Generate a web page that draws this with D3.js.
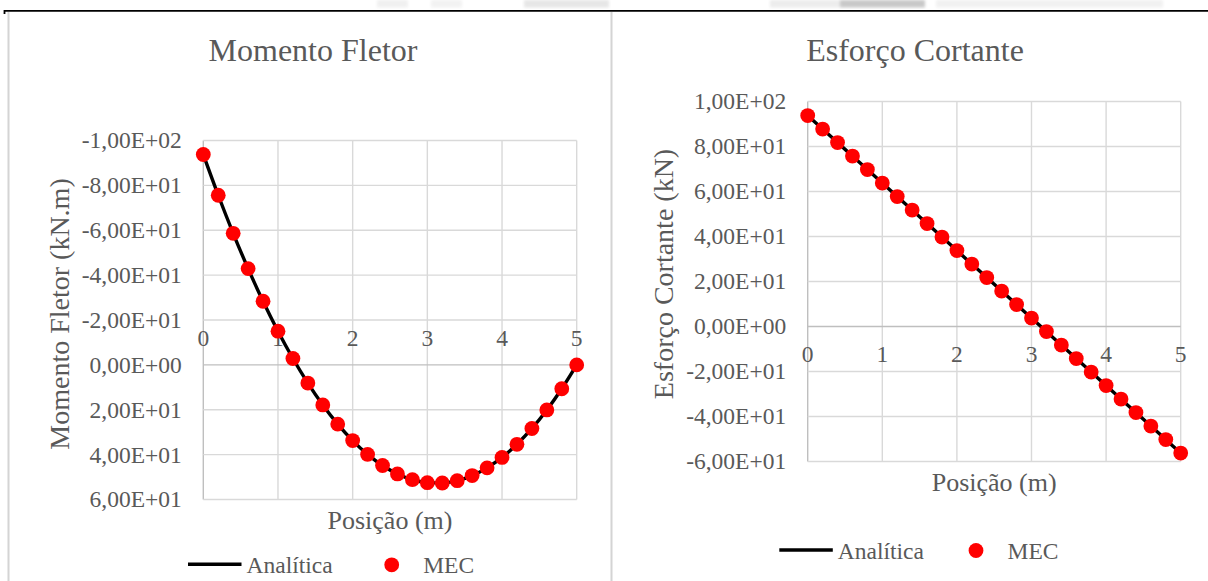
<!DOCTYPE html>
<html>
<head>
<meta charset="utf-8">
<script src="https://cdn.jsdelivr.net/npm/d3@7"></script>
<style>
  html, body { margin: 0; padding: 0; background: #ffffff; }
  svg { display: block; }
  text { font-family: "Liberation Serif", "Times New Roman", serif; fill: #595959; }
</style>
</head>
<body>
<svg id="page" width="1208" height="581"></svg>
<script>
// Beam positions along the span (m)
const positions = [0, 0.2, 0.4, 0.6, 0.8, 1.0, 1.2, 1.4, 1.6, 1.8, 2.0, 2.2, 2.4,
                   2.6, 2.8, 3.0, 3.2, 3.4, 3.6, 3.8, 4.0, 4.2, 4.4, 4.6, 4.8, 5.0];

// Bending moment (kN.m)
const momentAnalitica = [-93.75, -75.6, -58.65, -42.9, -28.35, -15.0, -2.85, 8.1, 17.85,
                         26.4, 33.75, 39.9, 44.85, 48.6, 51.15, 52.5, 52.65, 51.6, 49.35,
                         45.9, 41.25, 35.4, 28.35, 20.1, 10.65, 0.0];
const momentMEC = [-93.75, -75.6, -58.65, -42.9, -28.35, -15.0, -2.85, 8.1, 17.85,
                   26.4, 33.75, 39.9, 44.85, 48.6, 51.15, 52.5, 52.65, 51.6, 49.35,
                   45.9, 41.25, 35.4, 28.35, 20.1, 10.65, 0.0];

// Shear force (kN)
const shearAnalitica = [93.75, 87.75, 81.75, 75.75, 69.75, 63.75, 57.75, 51.75, 45.75,
                        39.75, 33.75, 27.75, 21.75, 15.75, 9.75, 3.75, -2.25, -8.25,
                        -14.25, -20.25, -26.25, -32.25, -38.25, -44.25, -50.25, -56.25];
const shearMEC = [93.75, 87.75, 81.75, 75.75, 69.75, 63.75, 57.75, 51.75, 45.75,
                  39.75, 33.75, 27.75, 21.75, 15.75, 9.75, 3.75, -2.25, -8.25,
                  -14.25, -20.25, -26.25, -32.25, -38.25, -44.25, -50.25, -56.25];

// Axis ticks
const xTicks = [0, 1, 2, 3, 4, 5];
const momentTicks = [-100, -80, -60, -40, -20, 0, 20, 40, 60];
const shearTicks = [100, 80, 60, 40, 20, 0, -20, -40, -60];

// Legend entries
const seriesNames = ["Analítica", "MEC"];

// Scientific label in the "1,00E+02" style
function sciLabel(v) {
  if (v === 0) return "0,00E+00";
  const sign = v < 0 ? "-" : "";
  const a = Math.abs(v);
  let e = Math.floor(Math.log10(a));
  let m = a / Math.pow(10, e);
  if (+m.toFixed(2) >= 10) { m /= 10; e += 1; }
  return sign + m.toFixed(2).replace(".", ",") + "E" + (e < 0 ? "-" : "+") + String(Math.abs(e)).padStart(2, "0");
}

const svg = d3.select("#page");

// Faint print-through above the page rule
const defs = svg.append("defs");
defs.append("filter").attr("id", "soft").append("feGaussianBlur").attr("stdDeviation", 1.6);
const smudges = svg.append("g").attr("filter", "url(#soft)");
[[377, 31, "#f0f0f0"], [431, 31, "#f2f2f2"], [524, 85, "#e6e6e6"],
 [770, 70, "#ececec"], [840, 85, "#c8c8c8"], [936, 227, "#f1f1f1"]].forEach(([sx, sw, c]) => {
  smudges.append("rect").attr("x", sx).attr("y", 0).attr("width", sw).attr("height", 7.5).attr("fill", c);
});

// Page frame: rule at the top and the panel borders
svg.append("line").attr("x1", 4).attr("x2", 1208).attr("y1", 10.8).attr("y2", 10.8)
  .attr("stroke", "#000").attr("stroke-width", 1.8);
svg.append("line").attr("x1", 4.5).attr("x2", 4.5).attr("y1", 10).attr("y2", 14)
  .attr("stroke", "#000").attr("stroke-width", 1.8);
[8.5, 611.5].forEach(x => {
  svg.append("line").attr("x1", x).attr("x2", x).attr("y1", 12).attr("y2", 581)
    .attr("stroke", "#d4d4d4").attr("stroke-width", 2);
});

function drawPanel(cfg) {
  const g = svg.append("g");
  const x = d3.scaleLinear().domain([0, 5]).range([cfg.left, cfg.right]);
  const y = d3.scaleLinear().domain(cfg.yDomain).range([cfg.top, cfg.bottom]);

  // vertical gridlines
  g.append("g").selectAll("line").data(xTicks).join("line")
    .attr("x1", d => x(d)).attr("x2", d => x(d))
    .attr("y1", cfg.top).attr("y2", cfg.bottom)
    .attr("stroke", d => d === 0 ? "#bfbfbf" : "#d9d9d9").attr("stroke-width", 1.4);

  // horizontal gridlines
  g.append("g").selectAll("line").data(cfg.yTicks).join("line")
    .attr("x1", cfg.left).attr("x2", cfg.right)
    .attr("y1", d => y(d)).attr("y2", d => y(d))
    .attr("stroke", d => d === 0 ? "#bfbfbf" : "#d9d9d9").attr("stroke-width", 1.4);

  // value-axis labels
  g.append("g").selectAll("text").data(cfg.yTicks).join("text")
    .attr("x", cfg.left - 21.5).attr("y", d => y(d)).attr("dy", "0.34em")
    .attr("text-anchor", "end").attr("font-size", 23.5)
    .text(d => sciLabel(d));

  // position labels along the zero line
  g.append("g").selectAll("text").data(xTicks).join("text")
    .attr("x", d => x(d)).attr("y", y(0) + cfg.xLabelOffset)
    .attr("text-anchor", "middle").attr("font-size", 23.5)
    .text(d => d);

  // analytical curve
  const line = d3.line().x((d, i) => x(positions[i])).y(d => y(d)).curve(d3.curveMonotoneX);
  g.append("path").datum(cfg.analitica).attr("d", line)
    .attr("fill", "none").attr("stroke", "#000").attr("stroke-width", 3.4)
    .attr("stroke-linejoin", "round");

  // MEC points
  g.append("g").selectAll("circle").data(cfg.mec).join("circle")
    .attr("cx", (d, i) => x(positions[i])).attr("cy", d => y(d))
    .attr("r", 7.4).attr("fill", "#ff0000");

  // chart title
  g.append("text").attr("x", cfg.titleX).attr("y", 61)
    .attr("text-anchor", "middle").attr("font-size", 32).text(cfg.title);

  // axis titles
  g.append("text").attr("x", (cfg.left + cfg.right) / 2).attr("y", cfg.bottom + 29)
    .attr("text-anchor", "middle").attr("font-size", 26).text("Posição (m)");
  g.append("text")
    .attr("transform", `translate(${cfg.yTitleX},${cfg.yTitleY}) rotate(-90)`)
    .attr("text-anchor", "middle").attr("font-size", 28).text(cfg.yTitle);

  // legend
  const lg = g.append("g");
  lg.append("line").attr("x1", cfg.legendX).attr("x2", cfg.legendX + 53.5)
    .attr("y1", cfg.legendY).attr("y2", cfg.legendY)
    .attr("stroke", "#000").attr("stroke-width", 3.4);
  lg.append("text").attr("x", cfg.legendX + 58.5).attr("y", cfg.legendY + 8.6)
    .attr("font-size", 23.5).text(seriesNames[0]);
  lg.append("circle").attr("cx", cfg.legendX + cfg.dotGap).attr("cy", cfg.legendY + 0.5)
    .attr("r", 7.4).attr("fill", "#ff0000");
  lg.append("text").attr("x", cfg.legendX + cfg.dotGap + 31.5).attr("y", cfg.legendY + 8.6)
    .attr("font-size", 23.5).text(seriesNames[1]);
}

drawPanel({
  title: "Momento Fletor", titleX: 313,
  yTitle: "Momento Fletor (kN.m)", yTitleX: 68.5, yTitleY: 314,
  left: 203.3, right: 576.7, top: 140.5, bottom: 499.5,
  yDomain: [-100, 60], yTicks: momentTicks, xLabelOffset: -19,
  analitica: momentAnalitica, mec: momentMEC,
  legendX: 188, legendY: 564.3, dotGap: 203.7
});

drawPanel({
  title: "Esforço Cortante", titleX: 915,
  yTitle: "Esforço Cortante (kN)", yTitleX: 672.7, yTitleY: 274,
  left: 807.7, right: 1180.7, top: 101.5, bottom: 461.5,
  yDomain: [100, -60], yTicks: shearTicks, xLabelOffset: 35.5,
  analitica: shearAnalitica, mec: shearMEC,
  legendX: 779.3, legendY: 550, dotGap: 196.7
});
</script>
</body>
</html>
